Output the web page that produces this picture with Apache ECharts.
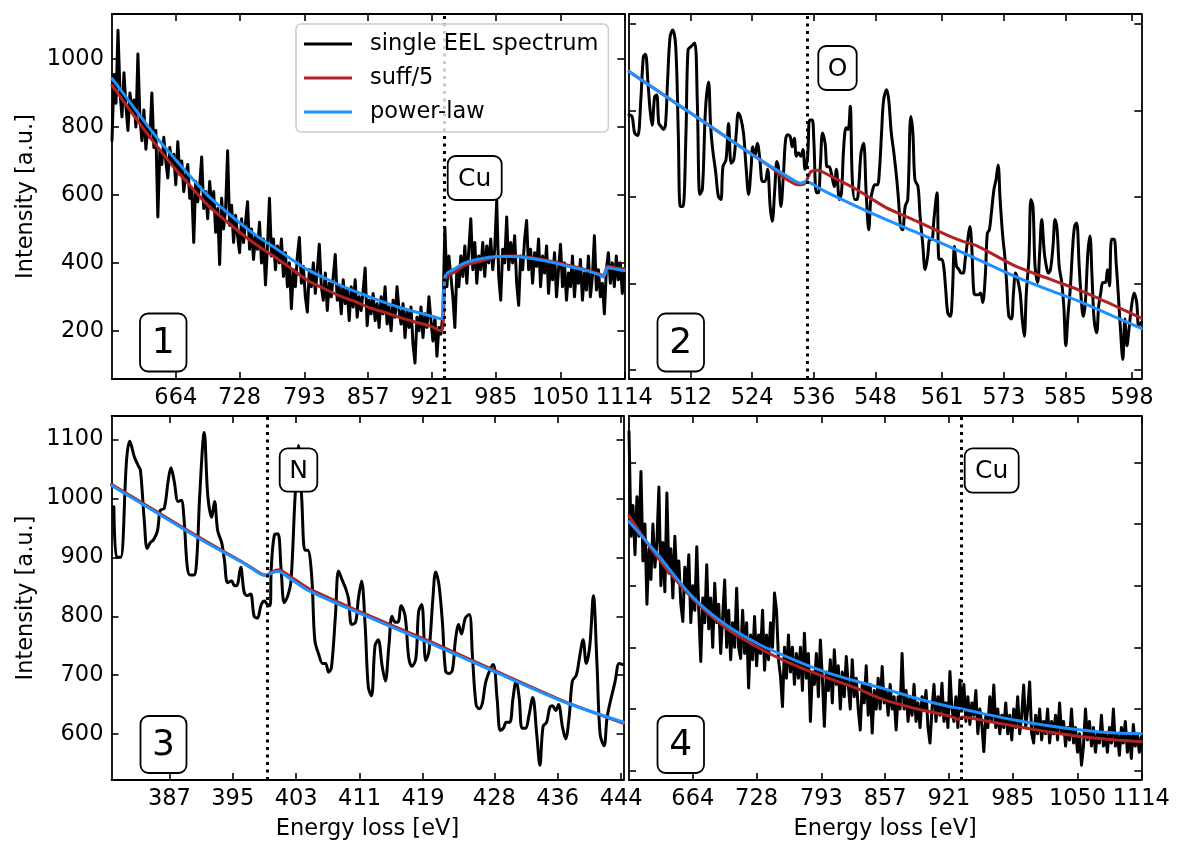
<!DOCTYPE html>
<html>
<head>
<meta charset="utf-8">
<script src="https://cdn.jsdelivr.net/npm/echarts@6/dist/echarts.min.js"></script>
<style>html,body{margin:0;padding:0;background:#fff}#chart{width:1181px;height:849px}</style>
</head>
<body>
<div id="chart"></div>
<script>
// ---------------- DATA ----------------
const seriesNames = ['single EEL spectrum', 'suff/5', 'power-law'];
const edgeNames = ['Cu', 'O', 'N', 'Cu'];
const edgeEnergies = [933, 534.65, 399.4, 933];

// tick labels
const p1XTicks = [664, 728, 793, 857, 921, 985, 1050, 1114];
const p2XTicks = [512, 524, 536, 548, 561, 573, 585, 598];
const p3XTicks = [387, 395, 403, 411, 419, 428, 436, 444];
const p4XTicks = [664, 728, 793, 857, 921, 985, 1050, 1114];
const p1YTicks = [200, 400, 600, 800, 1000];
const p2YTicks = [500, 600, 700, 800, 900];
const p3YTicks = [600, 700, 800, 900, 1000, 1100];
const p4YTicks = [500, 600, 700, 800, 900, 1000];

// panel 1 & 4 spectra: channel grid 600 eV, 2 eV dispersion
const wideStart = 600, wideStep = 2;
const p1Counts = [
 760, 955, 870,1085, 905, 830, 960, 860, 790, 900,
 845, 880, 800,1015, 830, 760, 850, 735, 800, 770,
 900, 740, 790, 535, 730, 690, 770, 700, 650, 740,
 690, 720, 630, 757, 660, 700, 610, 660, 690, 590,
 620, 460, 640, 580, 630, 712, 560, 610, 530, 640,
 560, 610, 490, 560, 395, 590, 500, 560, 730, 510,
 570, 460, 540, 480, 430, 530, 460, 520, 580, 440,
 500, 410, 480, 440, 520, 400, 470, 335, 450, 590,
 420, 470, 380, 450, 400, 470, 360, 430, 330, 400,
 265, 380, 330, 420, 475, 340, 390, 300, 255, 380,
 330, 400, 310, 380, 455, 330, 290, 370, 260, 340,
 300, 360, 425, 290, 330, 250, 350, 280, 320, 230,
 330, 270, 350, 240, 300, 260, 320, 385, 215, 290,
 250, 310, 230, 280, 210, 300, 250, 330, 220, 270,
 200, 290, 240, 330, 260, 220, 280, 180, 260, 210,
 270, 160, 105, 240, 200, 270, 180, 250, 210, 300,
 230, 170, 240, 125, 210, 190, 250, 505, 330, 420,
 360, 300, 210, 380, 330, 420, 360, 450, 340, 440,
 530, 380, 460, 340, 420, 380, 460, 360, 450, 400,
 470, 380, 440, 585, 360, 290, 440, 400, 535, 380,
 460, 400, 480, 340, 275, 420, 380, 470, 525, 380,
 440, 340, 430, 390, 470, 330, 420, 370, 450, 310,
 400, 350, 430, 300, 380, 455, 330, 400, 290, 370,
 330, 420, 300, 380, 340, 410, 290, 370, 320, 420,
 300, 360, 480, 320, 380, 300, 340, 250, 380, 430,
 340, 400, 330, 420, 350, 400, 310, 380
];
const p4Counts = [
 1050, 880, 930, 850, 944, 880, 985, 840, 900, 770,
 860, 810, 900, 830, 870, 960, 800, 870, 790, 950,
 820, 860, 780, 880, 810, 840, 770, 742, 830, 790,
 850, 740, 800, 760, 863, 760, 677, 780, 740, 834,
 730, 780, 700, 804, 740, 770, 690, 750, 809, 700,
 760, 680, 740, 700, 796, 700, 682, 760, 690, 740,
 634, 720, 680, 750, 670, 720, 690, 760, 663, 720,
 680, 740, 700, 788, 760, 680, 653, 604, 700, 650,
 720, 660, 700, 640, 690, 650, 700, 630, 723, 650,
 690, 580, 660, 640, 690, 620, 712, 650, 572, 660,
 630, 680, 610, 696, 640, 670, 600, 660, 620, 685,
 640, 600, 680, 620, 650, 600, 566, 640, 610, 670,
 590, 640, 561, 630, 600, 650, 600, 669, 610, 630,
 590, 640, 600, 620, 566, 620, 600, 690, 600, 630,
 580, 620, 590, 640, 580, 610, 570, 620, 600, 630,
 570, 545, 600, 640, 580, 620, 590, 642, 580, 610,
 570, 661, 600, 580, 620, 570, 647, 600, 640, 580,
 620, 575, 610, 590, 630, 560, 600, 575, 531, 590,
 570, 620, 580, 639, 570, 600, 560, 590, 570, 610,
 560, 590, 550, 600, 570, 620, 560, 590, 639, 570,
 600, 644, 560, 545, 590, 560, 600, 550, 580, 560,
 600, 545, 580, 560, 590, 550, 610, 560, 580, 540,
 570, 550, 600, 545, 570, 530, 560, 509, 540, 600,
 550, 580, 540, 570, 530, 560, 545, 590, 540, 560,
 530, 570, 545, 600, 540, 560, 525, 570, 545, 580,
 530, 560, 520, 575, 540, 560, 530, 555
];

// panel 2 spectrum (energy, intensity)
const p2Energy = [
500.0,500.6,501.1,501.7,502.3,502.8,503.2,503.7,504.1,504.5,505.0,505.4,505.8,506.2,506.7,507.1,507.5,508.0,508.5,509.1,
509.6,510.0,510.5,511.1,511.5,512.1,512.8,513.3,513.8,514.3,514.9,515.5,515.9,516.3,516.9,517.4,517.9,518.3,518.9,519.4,
519.9,520.4,520.9,521.3,521.7,522.3,522.8,523.3,523.8,524.1,524.5,525.0,525.5,526.0,526.5,527.0,527.5,527.9,528.4,528.8,
529.1,529.6,530.1,530.5,530.9,531.4,531.8,532.2,532.6,533.0,533.5,533.9,534.3,534.8,535.2,535.7,536.0,536.5,536.9,537.3,
537.7,538.2,538.6,539.0,539.4,540.0,540.4,541.0,541.4,541.8,542.3,542.7,543.1,543.5,544.0,544.4,544.8,545.2,545.7,546.2,
546.7,547.1,547.5,547.9,548.4,548.8,549.2,549.6,550.2,550.6,551.1,551.6,552.1,552.5,552.9,553.3,553.8,554.3,554.9,555.3,
555.7,556.3,556.7,557.2,557.7,558.2,558.6,559.0,559.4,560.0,560.4,560.9,561.3,561.7,562.1,562.6,563.0,563.4,563.8,564.3,
564.7,565.1,565.5,566.0,566.4,566.8,567.2,567.7,568.1,568.5,568.9,569.4,569.8,570.2,570.6,571.1,571.5,571.9,572.3,572.8,
573.2,573.6,574.0,574.5,574.9,575.3,575.7,576.2,576.6,577.0,577.4,577.9,578.3,578.7,579.1,579.6,580.0,580.4,580.9,581.3,
581.7,582.1,582.6,583.0,583.4,583.8,584.3,584.7,585.1,585.5,586.0,586.4,586.8,587.2,587.7,588.1,588.5,588.9,589.4,589.8,
590.2,590.6,591.1,591.5,591.9,592.3,592.8,593.2,593.6,594.0,594.5,594.9,595.3,595.7,596.2,596.6,597.0,597.4,597.9,598.4,
598.9,599.3,599.8
];
const p2Counts = [
795,793,774,771,812,862,865,832,801,783,816,818,785,782,778,783,832,885,893,874,
774,689,689,774,870,874,878,812,703,709,801,833,782,755,728,701,697,735,743,785,
739,743,774,797,793,774,735,703,735,758,747,762,743,718,718,732,689,672,709,741,
735,689,728,766,772,770,758,768,747,751,747,755,732,747,789,789,766,705,705,739,
774,762,735,735,728,712,732,697,705,755,780,778,805,720,697,697,716,751,762,705,
662,697,709,714,714,732,774,812,824,812,774,751,724,697,666,662,689,697,793,774,
720,712,678,647,616,632,651,651,674,705,628,628,620,593,566,562,589,643,620,616,
612,612,628,651,666,639,589,587,587,589,578,608,658,662,682,709,720,737,697,655,
632,597,562,559,589,612,605,589,559,539,589,628,697,689,620,601,636,674,636,620,
612,616,643,674,662,620,601,574,528,562,597,639,666,670,620,582,562,578,636,655,
608,559,543,574,589,601,601,616,597,651,651,624,589,551,512,559,528,547,574,589,
578,551,555
];

// panel 3 spectrum (energy, intensity)
const p3Energy = [
380.0,380.35,380.85,381.6,382.0,382.6,383.1,383.35,383.85,384.2,384.6,385.0,385.5,385.85,386.35,386.85,387.2,387.6,388.1,388.5,
388.85,389.25,389.6,390.1,390.45,390.85,391.4,391.85,392.35,392.7,393.1,393.6,393.95,394.35,394.85,395.2,395.5,396.0,396.45,396.85,
397.25,397.7,398.1,398.6,399.0,399.35,399.7,399.85,400.25,400.7,401.1,401.5,401.95,402.35,402.85,403.3,403.7,404.1,404.45,404.95,
405.35,405.85,406.35,406.7,407.1,407.45,407.95,408.35,408.85,409.25,409.6,410.0,410.5,410.85,411.25,411.7,412.1,412.5,412.95,413.35,
413.85,414.25,414.7,415.1,415.5,415.85,416.25,416.75,417.2,417.6,418.1,418.45,418.85,419.35,419.75,420.25,420.6,421.0,421.45,421.85,
422.25,422.7,423.1,423.5,423.85,424.35,424.85,425.25,425.7,426.1,426.5,426.95,427.85,428.35,428.75,429.15,429.5,429.95,430.35,430.75,
431.15,431.5,431.95,432.35,432.85,433.35,433.75,434.15,434.6,435.0,435.35,435.75,436.1,436.6,437.0,437.45,437.85,438.35,438.75,439.2,
439.6,440.05,440.5,440.95,441.35,441.85,442.25,443.25,443.75,444.2
];
const p3Counts = [
986,900,900,1065,1097,1070,1055,1048,960,915,925,930,945,980,983,1030,1052,1030,995,997,
965,885,870,870,895,1010,1112,1005,968,995,945,925,895,857,860,852,852,883,840,835,
838,800,797,820,826,820,818,880,938,940,880,823,835,860,1000,1090,1000,912,912,870,
760,735,720,720,705,713,800,877,860,847,830,786,790,830,860,785,680,665,750,760,
715,690,750,800,790,790,818,800,730,715,728,808,820,725,740,830,875,855,790,707,
703,708,760,786,770,797,803,730,650,643,653,690,718,660,606,610,620,620,660,690,
660,610,610,630,662,600,547,613,620,645,648,640,650,612,592,630,690,700,730,760,
720,750,835,720,600,580,630,690,720,718
];

// model curves (energy, intensity)
const p1Suff = [[600,923],[615,862],[629,806],[646,740],[663,678],[680,622],[696,570],[713,527],[729,488],[746,451],[763,418],[780,383],[796,349],[813,324],[829,302],[845,285],[858,268],[872,256],[887,241],[904,226],[921,212],[930,200],[931.5,205],[932.5,231],[934,349],[936,360],[945,375],[954,393],[970,405],[987,418],[1004,420],[1021,415],[1038,406],[1055,395],[1072,383],[1088,368],[1093,362],[1095,375],[1097,390],[1105,386],[1114,383]];
const p1Power = [[600,943],[615,885],[629,830],[646,765],[663,707],[680,650],[696,599],[713,555],[729,516],[746,478],[763,445],[780,411],[796,380],[813,356],[829,334],[845,315],[858,300],[872,285],[887,270],[904,256],[921,243],[930,236],[931.5,240],[932.5,300],[934,359],[936,369],[945,385],[954,400],[970,412],[987,419],[1004,419],[1021,413],[1038,404],[1055,392],[1072,380],[1088,366],[1093,358],[1095,370],[1097,386],[1105,382],[1114,377]];
const p2Suff = [[500,845],[506,821],[512,797],[518.5,771],[525,745],[528,733],[530,723],[533,714],[534.3,716],[535.4,729],[536.7,731],[539.3,724],[544.5,708],[550,688],[556,672],[562.3,655],[564.9,649],[568,643],[575.3,620],[582,605],[588.3,591],[594,576],[599.8,560]];
const p2Power = [[500,845],[506,821],[512,797],[518.5,771],[525,745],[530,727],[533.5,716],[534.5,718],[535.4,716],[538,707],[544,690],[550,674],[556,659],[562.3,643],[569,625],[575.3,608],[582,592],[588.3,578],[594,563],[599.8,548]];
const p3Suff = [[379.7,1024],[385.6,976],[391.9,925],[396.1,893],[398.6,872],[399.3,870],[400,876],[400.8,879],[402,870],[404.5,848],[411.7,804],[420.1,756],[428.5,705],[436.9,655],[444.3,618]];
const p3Power = [[379.7,1022],[385.6,974],[391.9,923],[396.1,892],[398.6,871],[399.3,869],[400,874],[400.8,876],[402,866],[404.5,844],[411.7,801],[420.1,753],[428.5,703],[436.9,654],[444.3,620]];
const p4Suff = [[600,913],[628,847],[662,782],[695,734],[728,701],[762,674],[795,653],[828,634],[854,616],[887,601],[921,589],[931,583],[934,587],[954,582],[988,572],[1021,563],[1054,555],[1088,550],[1114,547]];
const p4Power = [[600,904],[628,852],[662,785],[695,739],[728,707],[762,682],[795,661],[828,645],[854,634],[887,618],[921,604],[932,601],[954,593],[988,582],[1021,573],[1054,566],[1088,561],[1114,560]];

// ---------------- BUILD ----------------
const FONT = 'DejaVu Sans';
const FS = 22.5;
function gridSpec(left, top, width, height) { return {left, top, width, height}; }
const grids = [
  gridSpec(112, 14, 512.3, 365),
  gridSpec(629, 14, 512.3, 365),
  gridSpec(111.5, 416, 512, 364),
  gridSpec(629, 416, 512.3, 364)
];
const panels = [
  {xr:[600,1114], yr:[58,1133], xt:p1XTicks, yt:p1YTicks, yLab:true, xName:'', yName:'Intensity [a.u.]', smoothBlack:false},
  {xr:[500,599.8], yr:[489.6,911.5], xt:p2XTicks, yt:p2YTicks, yLab:false, xName:'', yName:'', smoothBlack:true},
  {xr:[379.7,444.3], yr:[522,1140], xt:p3XTicks, yt:p3YTicks, yLab:true, xName:'Energy loss [eV]', yName:'Intensity [a.u.]', smoothBlack:true},
  {xr:[600,1114], yr:[485,1075], xt:p4XTicks, yt:p4YTicks, yLab:false, xName:'Energy loss [eV]', yName:'', smoothBlack:false}
];

function gridPairs(start, step, vals) { return vals.map((v, k) => [start + k * step, v]); }
function zip(xs, ys) { return xs.map((x, k) => [x, ys[k]]); }
const blackData = [
  gridPairs(wideStart, wideStep, p1Counts),
  zip(p2Energy, p2Counts),
  zip(p3Energy, p3Counts),
  gridPairs(wideStart, wideStep, p4Counts)
];
const suffData = [p1Suff, p2Suff, p3Suff, p4Suff];
const powerData = [p1Power, p2Power, p3Power, p4Power];

const lineAxis = {show:true, onZero:false, lineStyle:{color:'#000', width:1.8}};
function tick(vals){ return {show:true, inside:true, length:7, customValues: vals, lineStyle:{color:'#000', width:1.6}}; }
function lab(show, vals){ return {show, customValues: vals, color:'#000', fontSize:FS, fontFamily:FONT, margin:8, formatter: v => String(Math.round(v))}; }

const xAxes = [], yAxes = [];
panels.forEach((p, i) => {
  xAxes.push({type:'value', gridIndex:i, position:'bottom', min:p.xr[0], max:p.xr[1], axisLine:lineAxis, axisTick:tick(p.xt), axisLabel:lab(true, p.xt), splitLine:{show:false},
    name:p.xName, nameLocation:'middle', nameGap:38, nameTextStyle:{color:'#000', fontSize:FS, fontFamily:FONT}});
  xAxes.push({type:'value', gridIndex:i, position:'top', min:p.xr[0], max:p.xr[1], axisLine:lineAxis, axisTick:tick(p.xt), axisLabel:{show:false}, splitLine:{show:false}});
  yAxes.push({type:'value', gridIndex:i, position:'left', min:p.yr[0], max:p.yr[1], axisLine:lineAxis, axisTick:tick(p.yt), axisLabel:lab(p.yLab, p.yt), splitLine:{show:false},
    name:p.yName, nameLocation:'middle', nameGap:74, nameRotate:90, nameTextStyle:{color:'#000', fontSize:FS, fontFamily:FONT}});
  yAxes.push({type:'value', gridIndex:i, position:'right', min:p.yr[0], max:p.yr[1], axisLine:lineAxis, axisTick:tick(p.yt), axisLabel:{show:false}, splitLine:{show:false}});
});

const colors = ['#000000', '#b22222', '#1e90ff'];
const series = [];
panels.forEach((p, i) => {
  const sets = [blackData[i], suffData[i], powerData[i]];
  sets.forEach((d, s) => {
    const ser = {type:'line', name:seriesNames[s], xAxisIndex:2*i, yAxisIndex:2*i, data:d, showSymbol:false, symbol:'none',
      color:colors[s], lineStyle:{color:colors[s], width:3, join:'round', cap:'round'}, z: 2 + s, animation:false, silent:true};
    if (s > 0) ser.smooth = 0.25;
    if (s === 0 && p.smoothBlack) ser.smooth = 0.35;
    if (s === 2) {
      ser.markLine = {silent:true, symbol:['none','none'], animation:false, label:{show:false},
        lineStyle:{color:'#000', type:[3, 4.5], width:3}, data:[{xAxis: edgeEnergies[i]}]};
    }
    series.push(ser);
  });
});

// annotation boxes (panel numbers & edge names), pixel layout
const boxes = [
  {x:140, y:313.5, w:46.5, h:58, t:'1', f:36},
  {x:657.5, y:313.5, w:46.5, h:58, t:'2', f:36},
  {x:140.5, y:716, w:46, h:57, t:'3', f:36},
  {x:657.5, y:716, w:46.5, h:57, t:'4', f:36},
  {x:447.7, y:156, w:54, h:44, t:edgeNames[0], f:25},
  {x:818.3, y:46, w:38.4, h:44, t:edgeNames[1], f:25},
  {x:279.7, y:448.3, w:37.6, h:43.4, t:edgeNames[2], f:25},
  {x:964.7, y:448.3, w:54, h:44.4, t:edgeNames[3], f:25}
];
const graphic = [];
boxes.forEach(b => {
  graphic.push({type:'rect', z:100, silent:true, shape:{x:b.x, y:b.y, width:b.w, height:b.h, r:8},
    style:{fill:'#ffffff', stroke:'#000000', lineWidth:1.8}});
  graphic.push({type:'text', z:101, silent:true, x:b.x + b.w/2, y:b.y + b.h/2 + 1,
    style:{text:b.t, font: b.f + 'px "' + FONT + '"', fill:'#000', align:'center', verticalAlign:'middle', textAlign:'center', textVerticalAlign:'middle'}});
});

const chart = echarts.init(document.getElementById('chart'), null, {renderer:'canvas'});
chart.setOption({
  animation:false,
  backgroundColor:'#ffffff',
  grid: grids,
  xAxis: xAxes,
  yAxis: yAxes,
  legend: {
    data: seriesNames, orient:'vertical', left:296, top:24, icon:'rect', itemWidth:48, itemHeight:3, itemGap:10,
    padding:[8, 10, 8, 8], backgroundColor:'rgba(255,255,255,0.8)', borderColor:'#cccccc', borderWidth:1.5, borderRadius:5,
    selectedMode:false, z:50,
    textStyle:{color:'#000', fontSize:FS, fontFamily:FONT, lineHeight:24, padding:[0,0,0,13]}
  },
  series: series,
  graphic: graphic
});
</script>
</body>
</html>
